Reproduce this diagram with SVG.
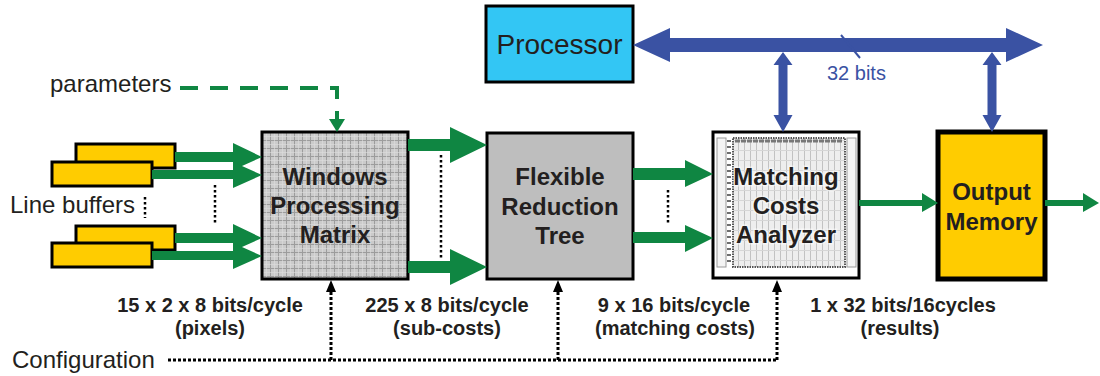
<svg xmlns="http://www.w3.org/2000/svg" width="1100" height="376" viewBox="0 0 1100 376">
<style>
.box{stroke:#000;stroke-width:3}
.lbl{font-family:"Liberation Sans",Arial,sans-serif;font-weight:bold;font-size:24px;fill:#231F20;text-anchor:middle}
.reg{font-family:"Liberation Sans",Arial,sans-serif;font-size:24px;fill:#231F20}
.bw{font-family:"Liberation Sans",Arial,sans-serif;font-weight:bold;font-size:20px;fill:#231F20;text-anchor:middle}
.g{fill:#0F8642}
.b{fill:#3A52A3}
.dot{fill:none;stroke:#000;stroke-width:2.5;stroke-dasharray:2.5 2.5}
.cfg{fill:none;stroke:#000;stroke-width:3;stroke-dasharray:3 2}
</style>
<defs>
<pattern id="grid" width="8" height="8" patternUnits="userSpaceOnUse" x="262" y="132">
<rect width="8" height="8" fill="#CBCBCB"/>
<path d="M0 0.5H8M0.5 0V8" stroke="#9C9C9C" stroke-width="1"/>
<path d="M0 4.5H8M4.5 0V8" stroke="#DDDDDD" stroke-width="0.6"/>
</pattern>
<pattern id="mca" width="6" height="10" patternUnits="userSpaceOnUse">
<rect width="6" height="10" fill="#EEEEEE"/>
<path d="M0.5 0V10" stroke="#C2C2C2" stroke-width="1"/>
<path d="M0 0.5H6" stroke="#D6D6D6" stroke-width="1"/>
</pattern>
</defs>

<g id="line-buffers">
<rect class="box" x="76" y="144" width="99" height="24" fill="#FFCC00"/>
<rect class="box" x="52" y="162" width="100" height="24" fill="#FFCC00"/>
<rect class="box" x="76" y="226" width="99" height="24" fill="#FFCC00"/>
<rect class="box" x="52" y="243" width="100" height="24" fill="#FFCC00"/>
<text class="reg" x="10" y="213">Line buffers</text>
<line class="dot" x1="145" y1="197" x2="145" y2="218"/>
</g>

<g id="parameters">
<text class="reg" x="50" y="92">parameters</text>
</g>

<g id="processor">
<rect class="box" x="486" y="6" width="147" height="76" fill="#33C6F4"/>
<text class="reg" x="559.5" y="54" style="font-size:28px;text-anchor:middle">Processor</text>
</g>

<g id="windows-processing-matrix">
<rect class="box" x="262" y="132" width="146" height="147" fill="url(#grid)"/>
<text class="lbl" x="335" y="185">Windows</text>
<text class="lbl" x="335" y="214">Processing</text>
<text class="lbl" x="335" y="243">Matrix</text>
</g>

<g id="flexible-reduction-tree">
<rect class="box" x="487" y="133" width="146" height="146" fill="#BEBEBE"/>
<text class="lbl" x="560" y="185">Flexible</text>
<text class="lbl" x="560" y="215">Reduction</text>
<text class="lbl" x="560" y="244">Tree</text>
</g>

<g id="matching-costs-analyzer">
<rect class="box" x="713" y="132" width="146" height="146" fill="#FFFFFF"/>
<rect x="717" y="138" width="9" height="129" fill="#F4F4F4" stroke="#9A9A9A" stroke-width="1"/>
<path d="M729 140V266" stroke="#6E6E6E" stroke-width="4" stroke-dasharray="2 4"/>
<rect x="733" y="138" width="112" height="129" fill="url(#mca)" stroke="#555" stroke-width="2" stroke-dasharray="1.5 1"/>
<path d="M735 141H843" stroke="#777" stroke-width="3" stroke-dasharray="5 1"/>
<rect x="847" y="138" width="9" height="129" fill="#F4F4F4" stroke="#9A9A9A" stroke-width="1"/>
<text class="lbl" x="786" y="185" stroke="#FFFFFF" stroke-width="3" paint-order="stroke" stroke-opacity="0.5">Matching</text>
<text class="lbl" x="786" y="214" stroke="#FFFFFF" stroke-width="3" paint-order="stroke" stroke-opacity="0.5">Costs</text>
<text class="lbl" x="786" y="243" stroke="#FFFFFF" stroke-width="3" paint-order="stroke" stroke-opacity="0.5">Analyzer</text>
</g>

<g id="output-memory">
<rect class="box" x="938" y="132" width="107" height="147" fill="#FFCC00" style="stroke-width:5"/>
<text class="lbl" x="991.5" y="200">Output</text>
<text class="lbl" x="991.5" y="230">Memory</text>
</g>

<g id="labels">
<text class="bw" x="210" y="312">15 x 2 x 8 bits/cycle</text>
<text class="bw" x="210" y="335">(pixels)</text>
<text class="bw" x="447" y="312">225 x 8 bits/cycle</text>
<text class="bw" x="447" y="335">(sub-costs)</text>
<text class="bw" x="674" y="312">9 x 16 bits/cycle</text>
<text class="bw" x="675" y="335">(matching costs)</text>
<text class="bw" x="903" y="312">1 x 32 bits/16cycles</text>
<text class="bw" x="900" y="335">(results)</text>
<text class="reg" x="12" y="368">Configuration</text>
<text class="reg" x="827" y="80" style="font-size:20px;fill:#3A52A3">32 bits</text>
</g>

<g id="connectors">
<path class="g" d="M175 152H233V143L262 157L233 170V162H175Z"/>
<path class="g" d="M152 170H233V162L262 175L233 188V179H152Z"/>
<path class="g" d="M175 233H233V224L262 238L233 251V243H175Z"/>
<path class="g" d="M152 251H233V243L262 256L233 269V260H152Z"/>
<line class="dot" x1="215" y1="185" x2="215" y2="224"/>
<path d="M180 88H337V120" fill="none" stroke="#0F8642" stroke-width="4" stroke-dasharray="18 12"/>
<path class="g" d="M329 119H345L337 132Z"/>
<path class="g" d="M408 139H450V127L487 145L450 163V151H408Z"/>
<path class="g" d="M408 261H450V249L487 267L450 285V273H408Z"/>
<line class="dot" x1="441" y1="155" x2="441" y2="258"/>
<path class="g" d="M633 168H685V160L713 174L685 187V180H633Z"/>
<path class="g" d="M633 232H685V225L713 238L685 252V243H633Z"/>
<line class="dot" x1="668" y1="190" x2="668" y2="224"/>
<path class="g" d="M859 200H922V193L938 203L922 212V206H859Z"/>
<path class="g" d="M1045 200H1083V193L1099 203L1083 212V206H1045Z"/>
<path class="b" d="M633 45L670 28V38H1006V28L1043 45L1006 62V52H670V62Z"/>
<path class="b" d="M783 52L792.5 65H787.5V115H792.5L783 132L773.5 115H778.5V65H773.5Z"/>
<path class="b" d="M992 52L1001.5 65H996.5V115H1001.5L992 132L982.5 115H987.5V65H982.5Z"/>
<line x1="841" y1="35" x2="860" y2="58" stroke="#3A52A3" stroke-width="2"/>
<path class="cfg" d="M168 360H777"/>
<path class="cfg" d="M331 360V292M558 360V292M777 360V292"/>
<path d="M326 292L331 280L336 292ZM553 292L558 280L563 292ZM772 292L777 280L782 292Z" fill="#000"/>
</g>
</svg>
